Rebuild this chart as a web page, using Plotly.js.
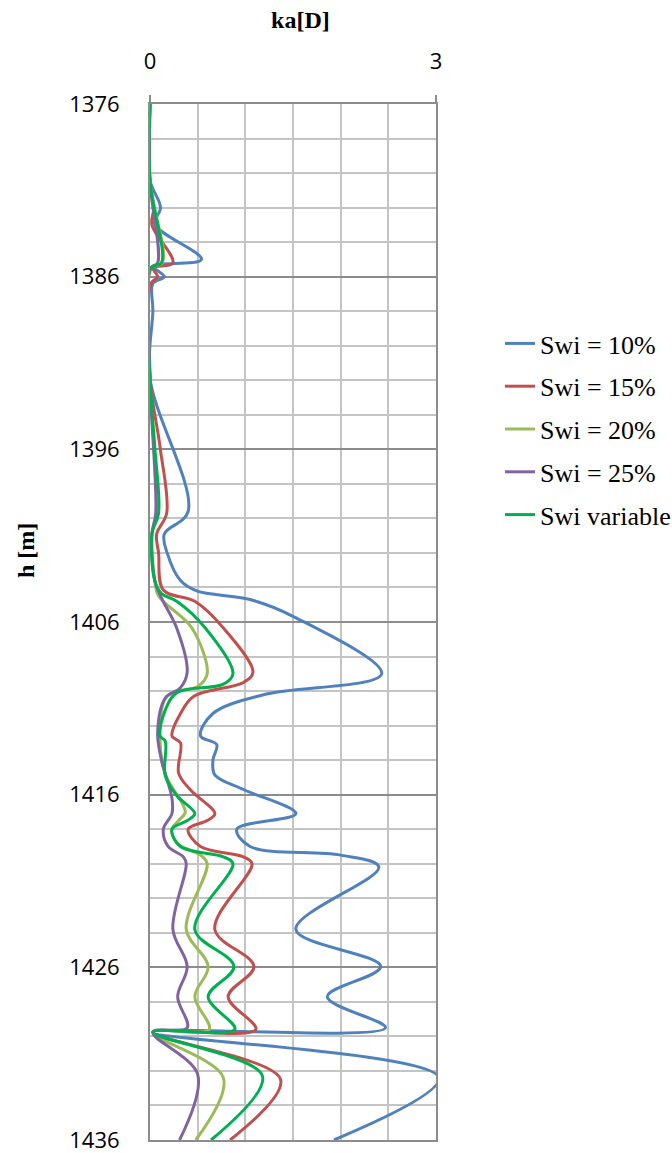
<!DOCTYPE html>
<html>
<head>
<meta charset="utf-8">
<script src="https://cdn.plot.ly/plotly-3.0.1.min.js"></script>
<style>html,body{margin:0;padding:0;background:#fff;}#chart{width:672px;height:1153px;}</style>
</head>
<body>
<div id="chart"></div>
<script>
// Swi = 10%
var depth10 = [1376, 1380.4, 1382.0, 1382.95, 1385.0, 1385.4, 1386.0, 1386.4, 1388.0, 1391.9, 1399.6, 1400.9, 1402.0, 1403.6, 1404.2, 1404.7, 1405.7, 1409.0, 1410.2, 1411.3, 1412.6, 1413.1, 1414.0, 1414.85, 1415.7, 1417.1, 1418.0, 1419.0, 1419.5, 1420.2, 1423.8, 1425.95, 1427.7, 1429.5, 1429.75, 1432.4, 1436];
var ka10   = [0, 0, 0.11, 0.05, 0.54, 0.035, 0.15, 0.03, 0.03, 0.0, 0.40, 0.15, 0.18, 0.32, 0.49, 1.05, 1.51, 2.43, 1.2, 0.66, 0.53, 0.70, 0.66, 0.68, 0.98, 1.53, 0.91, 1.05, 2.0, 2.40, 1.53, 2.42, 1.86, 2.47, 0.03, 3.03, 1.93];
// Swi = 15%
var depth15 = [1376, 1380.5, 1382.0, 1383.0, 1385.2, 1385.5, 1386.0, 1386.4, 1391.9, 1395.85, 1399.7, 1400.9, 1402.0, 1404.15, 1404.8, 1406.35, 1408.9, 1409.5, 1410.3, 1411.3, 1412.6, 1413.0, 1414.75, 1415.7, 1417.1, 1417.5, 1418.0, 1419.0, 1419.6, 1420.0, 1423.8, 1425.95, 1427.7, 1429.6, 1429.75, 1432.5, 1436];
var ka15   = [0, 0, 0.04, 0.02, 0.24, 0.03, 0.08, 0.01, 0, 0.105, 0.175, 0.07, 0.09, 0.14, 0.47, 0.77, 1.08, 0.98, 0.46, 0.32, 0.23, 0.32, 0.30, 0.42, 0.68, 0.60, 0.40, 0.53, 0.98, 1.07, 0.68, 1.09, 0.82, 1.11, 0.03, 1.37, 0.84];
// Swi = 20%
var depth20 = [1376, 1380.5, 1385.2, 1385.5, 1391.9, 1399.7, 1400.9, 1403.6, 1404.5, 1406.35, 1409.0, 1409.7, 1410.3, 1412.4, 1414.8, 1417.0, 1417.5, 1418.0, 1418.8, 1419.5, 1420.0, 1423.8, 1425.95, 1427.7, 1429.6, 1429.75, 1432.4, 1436];
var ka20   = [0, 0, 0.13, 0.01, 0, 0.07, 0.02, 0.05, 0.09, 0.44, 0.60, 0.51, 0.18, 0.105, 0.16, 0.37, 0.30, 0.23, 0.28, 0.53, 0.60, 0.38, 0.61, 0.47, 0.62, 0.03, 0.77, 0.48];
// Swi = 25%
var depth25 = [1376, 1380.5, 1385.2, 1385.5, 1391.9, 1399.7, 1400.9, 1403.6, 1404.6, 1406.35, 1408.9, 1409.8, 1410.4, 1412.4, 1414.0, 1416.2, 1417.1, 1418.0, 1419.0, 1419.6, 1420.0, 1423.8, 1425.95, 1427.7, 1429.5, 1429.75, 1432.2, 1436];
var ka25   = [0, 0, 0.08, 0.01, 0, 0.06, 0.02, 0.05, 0.12, 0.28, 0.39, 0.32, 0.16, 0.08, 0.12, 0.23, 0.23, 0.14, 0.19, 0.35, 0.38, 0.24, 0.39, 0.29, 0.39, 0.03, 0.50, 0.31];
// Swi variable
var depthVar = [1376, 1380.5, 1385.2, 1385.5, 1391.9, 1395.85, 1399.7, 1400.9, 1403.6, 1404.35, 1404.8, 1406.35, 1409.0, 1409.6, 1410.1, 1411.1, 1412.6, 1412.9, 1414.9, 1416.05, 1417.1, 1417.5, 1418.0, 1419.0, 1419.6, 1420.0, 1423.8, 1425.95, 1427.7, 1429.6, 1429.75, 1432.3, 1436];
var kaVar   = [0, 0, 0.12, 0.01, 0, 0.05, 0.09, 0.02, 0.05, 0.12, 0.28, 0.58, 0.87, 0.77, 0.28, 0.16, 0.105, 0.16, 0.16, 0.28, 0.47, 0.39, 0.23, 0.32, 0.77, 0.87, 0.47, 0.88, 0.61, 0.89, 0.03, 1.18, 0.64];

var seriesNames = ['Swi = 10%', 'Swi = 15%', 'Swi = 20%', 'Swi = 25%', 'Swi variable'];
var xTickVals = [0, 3];
var xTickText = ['0', '3'];

var colors = ['#4F81BD', '#C0504D', '#9BBB59', '#8064A2', '#00B050'];
var depths = [depth10, depth15, depth20, depth25, depthVar];
var vals = [ka10, ka15, ka20, ka25, kaVar];

var traces = seriesNames.map(function (n, i) {
  return {
    x: vals[i], y: depths[i], name: n, type: 'scatter', mode: 'lines',
    line: {color: colors[i], width: 3, shape: 'spline', smoothing: 1},
    legendgroup: 'g' + i
  };
});

var layout = {
  width: 672, height: 1153,
  margin: {l: 150, r: 236, t: 104, b: 13},
  paper_bgcolor: '#fff', plot_bgcolor: '#fff',
  showlegend: true,
  title: {text: '<b>ka[D]</b>', font: {family: 'Liberation Serif', size: 24, color: '#000'},
          xref: 'container', yref: 'container', x: 0.447, y: 0.983, xanchor: 'center', yanchor: 'middle'},
  xaxis: {
    side: 'top', range: [0, 3], tickmode: 'array', tickvals: xTickVals, ticktext: xTickText,
    ticks: 'outside', ticklen: 7, tickcolor: '#8c8c8c', tickwidth: 2,
    showgrid: false, zeroline: false,
    showline: true, mirror: true, linecolor: '#8c8c8c', linewidth: 2,
    tickfont: {family: 'Open Sans', size: 22, color: '#000'},
    ticklabelstandoff: 17,
    minor: {tickmode: 'linear', tick0: 0, dtick: 0.5, showgrid: true, gridcolor: '#c4c4c4', gridwidth: 2, ticks: ''}
  },
  yaxis: {
    range: [1436.0001, 1376], tickmode: 'linear', tick0: 1376, dtick: 10,
    showgrid: true, gridcolor: '#8c8c8c', gridwidth: 2, zeroline: false,
    showline: true, mirror: true, linecolor: '#8c8c8c', linewidth: 2,
    ticks: '', tickfont: {family: 'Open Sans', size: 22, color: '#000'},
    ticklabelstandoff: 24, ticklabeloverflow: 'allow',
    minor: {tickmode: 'linear', tick0: 1376, dtick: 2, showgrid: true, gridcolor: '#c4c4c4', gridwidth: 2, ticks: ''}
  },
  legend: {
    xref: 'container', yref: 'container',
    x: 500 / 672, xanchor: 'left', y: 1 - 320 / 1153, yanchor: 'top',
    font: {family: 'Liberation Serif', size: 26, color: '#000'},
    traceorder: 'grouped', tracegroupgap: 6, bgcolor: 'rgba(0,0,0,0)'
  },
  annotations: [{
    text: '<b>h [m]</b>', textangle: -90, xref: 'paper', yref: 'paper',
    x: -0.435, y: 0.569, xanchor: 'center', yanchor: 'middle', showarrow: false,
    font: {family: 'Liberation Serif', size: 24, color: '#000'}
  }]
};

Plotly.newPlot('chart', traces, layout, {staticPlot: true});
</script>
</body>
</html>
